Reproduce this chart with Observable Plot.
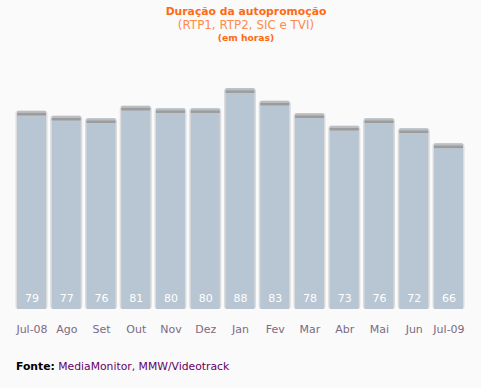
<!DOCTYPE html>
<html><head><meta charset="utf-8">
<script src="https://cdn.jsdelivr.net/npm/d3@7"></script>
<script src="https://cdn.jsdelivr.net/npm/@observablehq/plot@0.6"></script>
<style>
html,body{margin:0;padding:0;background:#fafafa;}
#wrap{position:relative;width:481px;height:388px;font-family:"DejaVu Sans",Verdana,sans-serif;overflow:hidden;}
#t1{position:absolute;left:0;width:492px;top:5px;text-align:center;color:#ff6a13;font-weight:bold;font-size:10.8px;}
#t2{position:absolute;left:0;width:492px;top:18px;text-align:center;color:#ff8a4a;font-size:11.9px;}
#t3{position:absolute;left:0;width:492px;top:32px;text-align:center;color:#ff6a13;font-weight:bold;font-size:9.2px;}
#cap{position:absolute;left:16px;top:360px;font-size:10.8px;color:#660066;}
#cap b{color:#000;}
#chart{position:absolute;left:0;top:0;}
</style></head>
<body><div id="wrap">
<div id="chart"></div>
<div id="t1">Duração da autopromoção</div>
<div id="t2">(RTP1, RTP2, SIC e TVI)</div>
<div id="t3">(em horas)</div>
<div id="cap"><b>Fonte:</b> MediaMonitor, MMW/Videotrack</div>
</div>
<script>
const months = ["Jul-08","Ago","Set","Out","Nov","Dez","Jan","Fev","Mar","Abr","Mai","Jun","Jul-09"];
const hours = [79,77,76,81,80,80,88,83,78,73,76,72,66];
const data = months.map((m,i)=>({month:m, value:hours[i]}));

const chart = Plot.plot({
  width:481, height:388,
  marginTop:58, marginBottom:79, marginLeft:17, marginRight:18,
  style:{background:"transparent", fontFamily:"'DejaVu Sans', Verdana, sans-serif", fontSize:"11px"},
  x:{domain:months, paddingInner:0.165, paddingOuter:0, round:false, axis:null},
  y:{domain:[0,100], axis:null},
  marks:[
    Plot.barY(data,{x:"month", y:"value", fill:"#dcdcdc", insetLeft:-1.5, insetRight:-1.5, rx:3}),
    Plot.barY(data,{x:"month", y:"value", fill:"#b8c5d2", rx:1}),
    Plot.tickY(data,{x:"month", y:"value", stroke:"#bdbdbd", strokeWidth:2, dy:1, insetLeft:1, insetRight:1}),
    Plot.tickY(data,{x:"month", y:"value", stroke:"#9c9c9c", strokeWidth:2.5, dy:3}),
    Plot.text(data,{x:"month", y:0, text:d=>String(d.value), fill:"white", dy:-11, fontSize:11}),
    Plot.axisX({tickSize:0, tickPadding:16, fontSize:11, color:"#7b6b85", label:null})
  ]
});
document.getElementById("chart").appendChild(chart);
</script>
</body></html>
